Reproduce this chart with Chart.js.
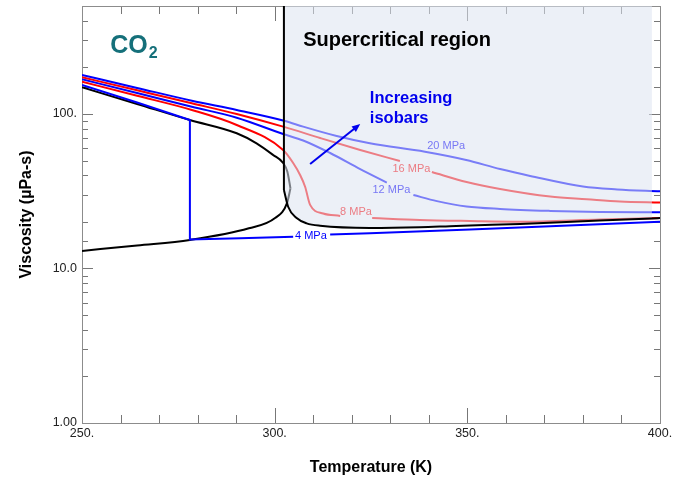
<!DOCTYPE html>
<html>
<head>
<meta charset="utf-8">
<script src="https://cdn.jsdelivr.net/npm/chart.js@4.4.1/dist/chart.umd.min.js"></script>
<style>
  html, body { margin: 0; padding: 0; background: #fff; }
  #wrap { width: 673px; height: 480px; }
</style>
</head>
<body>
<div id="wrap"><canvas id="chart" width="673" height="480"></canvas></div>
<script>
const FONT = '"Liberation Sans", Arial, Helvetica, sans-serif';

// ---- Saturation dome (T in K, viscosity in µPa-s) ----
const satLiqT = [250, 264.3, 278.0, 290.15, 295.3, 299.6, 302.2, 303.3, 304.1];
const satLiqV = [148.9, 116.1, 91.4, 75.0, 64.6, 54.3, 48.2, 42.3, 33.0];
const satVapT = [250, 264.3, 278.0, 293.3, 300.1, 303.2, 304.1];
const satVapV = [13.0, 14.1, 15.3, 18.2, 21.2, 26.5, 33.0];

// ---- Supercritical boundary: vertical line and near-critical isobar ----
const critLineT = [302.4, 302.4];
const critLineV = [500, 32.2];
const critIsoT = [302.4, 303.5, 305.7, 308.3, 311.8, 324.7, 337.7, 345.5, 350.7, 363.7, 380.0, 397.9, 400];
const critIsoV = [32.2, 25.1, 21.2, 19.6, 18.9, 18.3, 18.5, 18.8, 19.0, 19.4, 20.2, 21.1, 21.2];
const shadeEndT = 397.9;

// ---- Isobars (null = gap left for the inline label) ----
const p20T = [250, 264.3, 278.5, 290.15, 302.7, 307.4, 316.1, 324.7, 339.0, 349.7, 358.5, 366.3, 380.0, 388.9, 400];
const p20V = [178.8, 147.5, 121.9, 106.2, 90.1, 82.8, 72.0, 64.6, 57.0, 50.4, 44.0, 39.7, 33.9, 32.5, 31.6];

const p16T = [250, 264.3, 278.5, 290.15, 302.2, 311.8, 322.2, 332.5, 336.5, 340.8, 349.8, 358.5, 371.5, 381.0, 389.6, 400];
const p16V = [172.8, 142.3, 117.3, 100.0, 82.8, 69.9, 58.5, 49.6, null, 42.1, 36.3, 32.7, 29.2, 28.05, 27.1, 26.7];

const p12T = [250, 264.3, 278.5, 290.15, 302.2, 307.4, 314.4, 322.2, 329.1, 332.6, 336.0, 342.1, 349.8, 358.5, 371.5, 384.4, 400];
const p12V = [167.7, 136.8, 111.5, 94.6, 74.2, 67.4, 55.9, 44.0, 36.0, null, 29.9, 27.3, 25.2, 24.3, 23.6, 23.2, 23.1];

const p8T = [250, 264.3, 278.5, 290.15, 302.2, 304.8, 306.6, 307.9, 309.2, 312.6, 317.0, 321.1, 325.3, 337.7, 350.7, 363.7, 384.4, 400];
const p8V = [161.9, 131.2, 106.2, 84.9, 58.5, 48.2, 40.3, 33.8, 25.8, 22.7, 21.9, null, 21.2, 20.6, 20.3, 20.1, 20.75, 21.2];

// 4 MPa: liquid branch, vertical phase change at the saturation temperature, vapour branch
const p4T = [250, 264.3, 278.0, 278.0, 291.0, 304.8, 309.4, 314.4, 324.7, 350.7, 371.5, 400];
const p4V = [154.1, 118.7, 91.4, 15.4, 15.7, 16.07, null, 16.6, 16.9, 17.9, 18.75, 20.1];

// ---- Inline isobar labels ----
const isoLabels = ['20 MPa', '16 MPa', '12 MPa', '8 MPa', '4 MPa'];
const isoLabelT = [344.5, 335.5, 330.3, 321.1, 309.4];
const isoLabelV = [62.1, 44.0, 32.0, 23.2, 16.35];
const isoLabelColors = ['#7878f5', '#ec7c83', '#7878f5', '#ec7c83', '#0000ff'];

// ---- Annotations ----
const arrowT = [309.2, 322.2];
const arrowV = [47.5, 86.1];
const noteLines = ['Increasing', 'isobars'];
const noteT = 324.7;
const noteV = [127, 94.2];
const regionText = 'Supercritical region';
const regionT = 307.4, regionV = 296.9;
const fluidT = 257.3, fluidV = 248;

// ---- Axis ticks ----
const xMajor = [250, 300, 350, 400];
const yMajor = [1, 10, 100];
const yMajorText = ['1.00', '10.0', '100.'];

const pts = (ts, vs) => ts.map((t, i) => ({ x: t, y: vs[i] }));

const BLUE = '#0000ff', RED = '#ff0000', BLACK = '#000000';

const datasets = [
  { label: '20 MPa', data: pts(p20T, p20V), borderColor: BLUE, order: 3 },
  { label: '16 MPa', data: pts(p16T, p16V), borderColor: RED, order: 3 },
  { label: '12 MPa', data: pts(p12T, p12V), borderColor: BLUE, order: 3 },
  { label: '8 MPa', data: pts(p8T, p8V), borderColor: RED, order: 3 },
  { label: '4 MPa', data: pts(p4T, p4V), borderColor: BLUE, order: 3, tension: 0, cubicInterpolationMode: 'default' },
  { label: 'Saturated liquid', data: pts(satLiqT, satLiqV), borderColor: BLACK, order: 3 },
  { label: 'Saturated vapour', data: pts(satVapT, satVapV), borderColor: BLACK, order: 3 },
  // supercritical region wash, laid over the isobars
  {
    label: 'Supercritical region',
    data: pts(critIsoT, critIsoV).filter(p => p.x <= shadeEndT),
    borderWidth: 0, borderColor: 'rgba(0,0,0,0)',
    backgroundColor: 'rgba(220,228,240,0.55)',
    fill: 'end', order: 2
  },
  { label: 'Critical temperature', data: pts(critLineT, critLineV), borderColor: BLACK, order: 1, tension: 0, cubicInterpolationMode: 'default' },
  { label: 'Critical isobar', data: pts(critIsoT, critIsoV), borderColor: BLACK, order: 1 }
];

const framePlugin = {
  id: 'frameTicks',
  beforeDatasetsDraw(chart) {
    const { ctx, chartArea: a } = chart;
    const xs = chart.scales.x, ys = chart.scales.y;
    ctx.save();
    ctx.lineWidth = 1;
    ctx.strokeStyle = '#777';
    ctx.beginPath();
    xs.ticks.forEach(t => {
      const px = Math.round(xs.getPixelForValue(t.value)) + 0.5;
      const len = xMajor.includes(t.value) ? 15 : 8;
      ctx.moveTo(px, a.bottom); ctx.lineTo(px, a.bottom - len);
      ctx.moveTo(px, a.top); ctx.lineTo(px, a.top + len);
    });
    ys.ticks.forEach(t => {
      const py = Math.round(ys.getPixelForValue(t.value)) + 0.5;
      const len = yMajor.includes(t.value) ? 11 : 6;
      ctx.moveTo(a.left, py); ctx.lineTo(a.left + len, py);
      ctx.moveTo(a.right, py); ctx.lineTo(a.right - len, py);
    });
    ctx.stroke();
    ctx.strokeStyle = '#8c8c8c';
    ctx.strokeRect(Math.round(a.left) + 0.5, Math.round(a.top) + 0.5,
                   Math.round(a.right - a.left), Math.round(a.bottom - a.top));
    ctx.restore();
  }
};

const notePlugin = {
  id: 'notes',
  afterDatasetsDraw(chart) {
    const { ctx } = chart;
    const xs = chart.scales.x, ys = chart.scales.y;
    const X = v => xs.getPixelForValue(v), Y = v => ys.getPixelForValue(v);
    ctx.save();

    // isobar labels
    ctx.font = '11px ' + FONT;
    ctx.textAlign = 'center';
    ctx.textBaseline = 'middle';
    isoLabels.forEach((s, i) => {
      ctx.fillStyle = isoLabelColors[i];
      ctx.fillText(s, X(isoLabelT[i]), Y(isoLabelV[i]));
    });

    // fluid name with subscript
    ctx.textAlign = 'left';
    ctx.textBaseline = 'alphabetic';
    ctx.fillStyle = '#15707a';
    ctx.font = 'bold 25px ' + FONT;
    const fx = X(fluidT), fy = Y(fluidV);
    ctx.fillText('CO', fx, fy);
    const w = ctx.measureText('CO').width;
    ctx.font = 'bold 16px ' + FONT;
    ctx.fillText('2', fx + w + 1, fy + 5);

    // region title
    ctx.fillStyle = '#000';
    ctx.font = 'bold 20px ' + FONT;
    ctx.textBaseline = 'middle';
    ctx.fillText(regionText, X(regionT), Y(regionV));

    // trend note
    ctx.fillStyle = '#0000ee';
    ctx.font = 'bold 16.5px ' + FONT;
    noteLines.forEach((s, i) => ctx.fillText(s, X(noteT), Y(noteV[i])));

    // arrow
    const x0 = X(arrowT[0]), y0 = Y(arrowV[0]), x1 = X(arrowT[1]), y1 = Y(arrowV[1]);
    const ang = Math.atan2(y1 - y0, x1 - x0);
    const head = 9;
    ctx.strokeStyle = '#0000ee';
    ctx.lineWidth = 2;
    ctx.beginPath();
    ctx.moveTo(x0, y0);
    ctx.lineTo(x1 - Math.cos(ang) * head * 0.8, y1 - Math.sin(ang) * head * 0.8);
    ctx.stroke();
    ctx.beginPath();
    ctx.moveTo(x1, y1);
    ctx.lineTo(x1 - head * Math.cos(ang - 0.4), y1 - head * Math.sin(ang - 0.4));
    ctx.lineTo(x1 - head * Math.cos(ang + 0.4), y1 - head * Math.sin(ang + 0.4));
    ctx.closePath();
    ctx.fillStyle = '#0000ee';
    ctx.fill();
    ctx.restore();
  }
};

new Chart(document.getElementById('chart').getContext('2d'), {
  type: 'line',
  data: { datasets },
  options: {
    responsive: false,
    animation: false,
    devicePixelRatio: 1,
    layout: { padding: { top: 6, right: 13, left: 0, bottom: 0 } },
    plugins: { legend: { display: false }, tooltip: { enabled: false } },
    elements: {
      point: { radius: 0 },
      line: { borderWidth: 2, cubicInterpolationMode: 'monotone', fill: false }
    },
    scales: {
      x: {
        type: 'linear', min: 250, max: 400,
        grid: { display: false, drawTicks: false },
        border: { display: false },
        ticks: {
          stepSize: 10, autoSkip: false, maxRotation: 0, padding: 3,
          color: '#222', font: { family: FONT, size: 12.5 },
          callback: v => xMajor.includes(v) ? v.toFixed(0) + '.' : ''
        },
        title: {
          display: true, text: 'Temperature (K)', color: '#000',
          font: { family: FONT, size: 16, weight: 'bold' },
          padding: { top: 0, bottom: 3 }
        },
        afterFit: s => { s.height = 57; s.paddingLeft = 0; s.paddingRight = 0; }
      },
      y: {
        type: 'logarithmic', min: 1, max: 500,
        grid: { display: false, drawTicks: false },
        border: { display: false },
        ticks: {
          autoSkip: false, padding: 5,
          color: '#222', font: { family: FONT, size: 12.5 },
          callback: v => { const i = yMajor.indexOf(v); return i >= 0 ? yMajorText[i] : ''; }
        },
        title: {
          display: true, text: 'Viscosity (µPa-s)', color: '#000',
          font: { family: FONT, size: 16, weight: 'bold' },
          padding: { top: 17, bottom: 0 }
        },
        afterFit: s => { s.width = 82; s.paddingTop = 0; s.paddingBottom = 0; }
      }
    }
  },
  plugins: [framePlugin, notePlugin]
});
</script>
</body>
</html>
